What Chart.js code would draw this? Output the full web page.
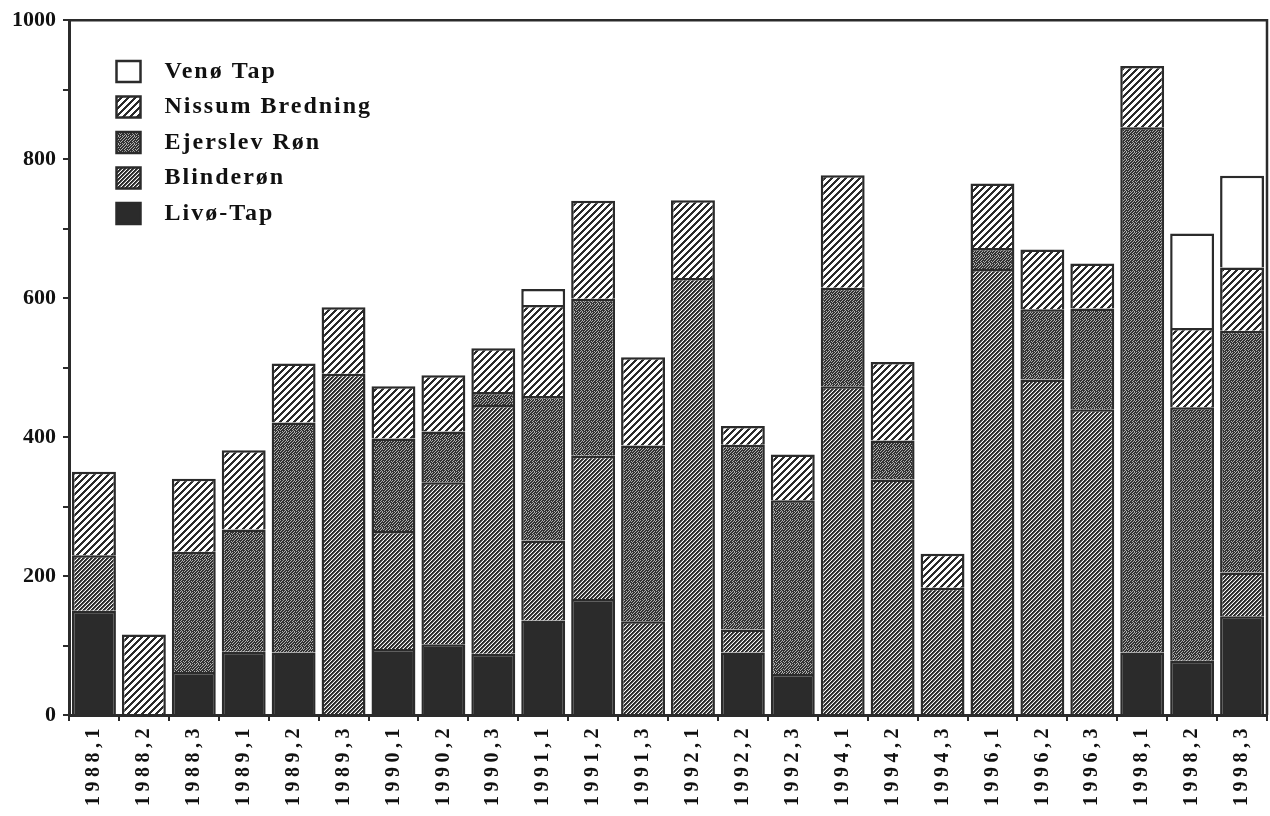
<!DOCTYPE html>
<html><head><meta charset="utf-8">
<script src="https://cdn.jsdelivr.net/npm/chart.js@4.4.0/dist/chart.umd.min.js"></script>
<style>html,body{margin:0;padding:0;background:#fff}canvas{display:block}</style>
</head><body>
<canvas id="c" width="1270" height="816"></canvas>
<script>
const categories = ['1988,1','1988,2','1988,3','1989,1','1989,2','1989,3','1990,1','1990,2','1990,3','1991,1','1991,2','1991,3','1992,1','1992,2','1992,3','1994,1','1994,2','1994,3','1996,1','1996,2','1996,3','1998,1','1998,2','1998,3'];
const livoTap   = [150,0,62,91,90,0,95,102,88,136,167,0,0,90,59,0,0,0,0,0,0,90,78,142];
const blinderon = [80,0,0,0,0,491,170,233,358,115,206,135,629,33,0,473,339,183,642,483,440,0,0,63];
const ejerslev  = [0,0,173,176,331,0,133,73,19,208,226,253,0,266,250,142,56,0,30,101,145,756,365,348];
const nissum    = [120,116,105,114,85,96,75,81,63,131,141,127,112,27,66,162,113,49,93,86,65,88,114,91];
const venoTap   = [0,0,0,0,0,0,0,0,0,23,0,0,0,0,0,0,0,0,0,0,0,0,136,132];
const yTicks = [0,200,400,600,800,1000];

const canvas = document.getElementById('c');
const ctx0 = canvas.getContext('2d');
function makePattern(w, h, fn) {
  const cv = document.createElement('canvas'); cv.width = w; cv.height = h;
  const g = cv.getContext('2d'); const img = g.createImageData(w, h);
  for (let y = 0; y < h; y++) for (let x = 0; x < w; x++) {
    const v = fn(x, y); const i = (y * w + x) * 4;
    img.data[i] = img.data[i+1] = img.data[i+2] = v; img.data[i+3] = 255;
  }
  g.putImageData(img, 0, 0);
  return ctx0.createPattern(cv, 'repeat');
}
const DARK = '#2b2b2b';
const stipple = ['10010010','00100101','01001000','10010010','00100100','01001001','10000100','00101010'];
const blinderRamp = [43, 43, 110, 250];
const patNissum = makePattern(7, 7, (x, y) => ((x + y) % 7) < 3 ? 43 : 255);
const patBlinder = makePattern(4, 4, (x, y) => blinderRamp[(x + y) % 4]);
const patEjer = makePattern(8, 8, (x, y) => stipple[y][x] === '1' ? 175 : 50);

const frame = {
  id: 'frame',
  afterLayout(chart) {
    const xs = chart.scales.x;
    if (!xs._ls) {
      const o = xs.drawLabels;
      xs.drawLabels = function (a) { const c = this.ctx; c.save(); c.letterSpacing = '4.5px'; o.call(this, a); c.restore(); };
      xs._ls = true;
    }
    const lg = chart.legend;
    if (lg) {
      lg.left += 36; lg.top += 48;
      if (!lg._ls) {
        const od = lg.draw;
        lg.draw = function (a) {
          const c = this.ctx; const ft = c.fillText;
          c.save(); c.letterSpacing = '2px';
          c.fillText = function (t, x, y, m) { return m === undefined ? ft.call(this, t, x + 12, y) : ft.call(this, t, x + 12, y, m); };
          od.call(this, a);
          delete c.fillText; c.restore();
        };
        lg._ls = true;
      }
    }
  },
  afterDraw(chart) {
    const {ctx, chartArea: a} = chart;
    ctx.save(); ctx.strokeStyle = DARK; ctx.lineWidth = 2.5;
    ctx.beginPath(); ctx.moveTo(a.left, a.top); ctx.lineTo(a.right, a.top); ctx.lineTo(a.right, a.bottom); ctx.stroke();
    ctx.restore();
  }
};

const common = { borderColor: DARK, borderWidth: 2.5, borderSkipped: 'start', categoryPercentage: 1, barPercentage: 0.88 };
new Chart(canvas, {
  type: 'bar',
  data: {
    labels: categories,
    datasets: [
      Object.assign({ label: 'Livø-Tap', data: livoTap, backgroundColor: DARK }, common),
      Object.assign({ label: 'Blinderøn', data: blinderon, backgroundColor: patBlinder }, common),
      Object.assign({ label: 'Ejerslev Røn', data: ejerslev, backgroundColor: patEjer }, common),
      Object.assign({ label: 'Nissum Bredning', data: nissum, backgroundColor: patNissum }, common),
      Object.assign({ label: 'Venø Tap', data: venoTap, backgroundColor: '#ffffff' }, common)
    ]
  },
  options: {
    responsive: false, animation: false, devicePixelRatio: 1,
    layout: { padding: { top: 19, right: 3, left: 0, bottom: 0 } },
    plugins: {
      tooltip: { enabled: false },
      legend: {
        position: 'chartArea', align: 'start', reverse: true,
        labels: { boxWidth: 24, boxHeight: 21, padding: 11.5, color: '#111',
          font: { family: 'Liberation Serif', weight: 'bold', size: 24 } }
      }
    },
    scales: {
      x: {
        stacked: true,
        afterFit(s) { s.height = 101; },
        grid: { offset: true, drawOnChartArea: false, drawTicks: true, tickLength: 6, color: DARK, lineWidth: 2 },
        border: { display: true, color: DARK, width: 3 },
        ticks: { minRotation: 90, maxRotation: 90, autoSkip: false, padding: 3, color: '#111',
          font: { family: 'Liberation Serif', weight: 'bold', size: 20 } }
      },
      y: {
        stacked: true, min: 0, max: 1000,
        afterFit(s) { s.width = 69; },
        grid: { drawOnChartArea: false, drawTicks: true, tickLength: 6, color: DARK, lineWidth: 2 },
        border: { display: true, color: DARK, width: 3 },
        ticks: { stepSize: 100, padding: 7, color: '#111',
          callback: (v) => yTicks.includes(v) ? String(v) : '',
          font: { family: 'Liberation Serif', weight: 'bold', size: 22 } }
      }
    }
  },
  plugins: [frame]
});
</script>
</body></html>
